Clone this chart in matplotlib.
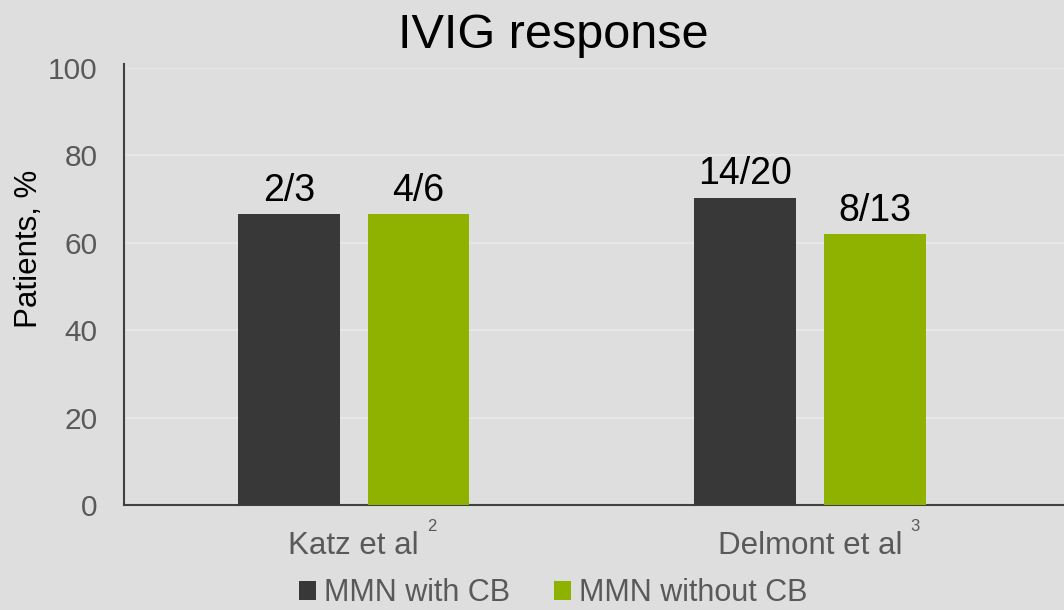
import numpy as np
import matplotlib.pyplot as plt

plt.rcParams['font.family'] = ['Liberation Sans', 'DejaVu Sans']

# data
studies = ['Katz et al', 'Delmont et al']
refs = ['2', '3']
series = ['MMN with CB', 'MMN without CB']
with_cb = [66.5, 70.3]
without_cb = [66.5, 62.0]
with_cb_labels = ['2/3', '14/20']
without_cb_labels = ['4/6', '8/13']

bg = '#dfdede'
dark = '#383838'
green = '#8fb200'
gray_txt = '#595959'

fig = plt.figure(figsize=(10.64, 6.10), dpi=100, facecolor=bg)
ax = fig.add_axes([124 / 1064, 1 - 505 / 610, 940 / 1064, (505 - 68) / 610])
ax.set_facecolor(bg)

x = np.arange(len(studies))
w = 0.223
off = 0.142
b1 = ax.bar(x - off, with_cb, w, color=dark, label=series[0], zorder=3)
b2 = ax.bar(x + off, without_cb, w, color=green, label=series[1], zorder=3)
ax.bar_label(b1, labels=with_cb_labels, padding=4, fontsize=27, color='black')
ax.bar_label(b2, labels=without_cb_labels, padding=4, fontsize=27, color='black')

ax.set_xlim(-0.503, 1.556)
ax.set_ylim(0, 100)
ax.set_yticks(np.arange(0, 101, 20))
ax.yaxis.grid(True, color='#e9e9e9', linewidth=1.2, zorder=0)
ax.set_axisbelow(True)

ax.set_xticks(x)
ax.set_xticklabels(studies)
ax.tick_params(axis='x', length=0, pad=18.5, labelsize=22.5, labelcolor=gray_txt)
ax.tick_params(axis='y', length=0, pad=19, labelsize=21.5, labelcolor=gray_txt)

for s in ['top', 'right']:
    ax.spines[s].set_visible(False)
for s in ['left', 'bottom']:
    ax.spines[s].set_color('#404040')
    ax.spines[s].set_linewidth(1.5)
ax.spines['left'].set_bounds(0, 101)

# reference superscripts next to the study names
fig.canvas.draw()
for lab, r in zip(ax.get_xticklabels(), refs):
    ax.annotate(r, xy=(1, 1), xycoords=lab, xytext=(6, 0), textcoords='offset points',
                ha='left', va='baseline', fontsize=12, color=gray_txt)

fig.text(29 / 1064, 1 - 249 / 610, 'Patients, %', rotation=90, ha='center', va='center',
         fontsize=22.5, color='black')
fig.text(553 / 1064, 1 - 48 / 610, 'IVIG response', ha='center', va='baseline',
         fontsize=35, color='black')

fig.legend(loc='lower center', bbox_to_anchor=(553 / 1064, 0.003), ncol=2, frameon=False,
           fontsize=22, labelcolor=gray_txt, borderpad=0, borderaxespad=0,
           handlelength=0.55, handleheight=0.55, handletextpad=0.26, columnspacing=1.45)

fig.savefig('out.png', dpi=100, facecolor=bg)
